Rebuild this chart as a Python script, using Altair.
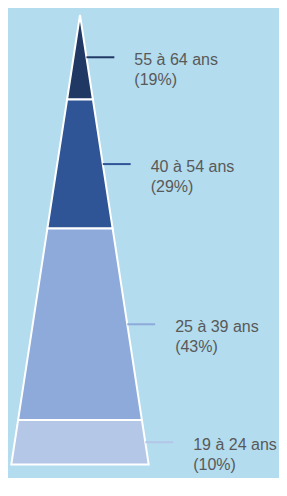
import altair as alt
import pandas as pd

# Data (top of pyramid to bottom)
labels = ["55 à 64 ans", "40 à 54 ans", "25 à 39 ans", "19 à 24 ans"]
pct = [19, 29, 43, 10]
colors = ["#203864", "#2f5597", "#8eaadb", "#b4c7e7"]
background = "#b3dcee"

# Build trapezoid outlines from cumulative shares
rows = []
seg = []
top = 0
for i, (lab, p) in enumerate(zip(labels, pct)):
    bot = top + p
    for d in (top, bot):
        rows.append({"label": lab, "order": i, "depth": d, "left": -d, "right": d})
    mid = (top + bot) / 2
    seg.append({"label": lab, "order": i, "mid": mid,
                "text": f"{lab}\n({p}%)"})
    top = bot

poly = pd.DataFrame(rows)
segs = pd.DataFrame(seg)

yscale = alt.Scale(domain=[-1.573, 104.04], zero=False, nice=False, reverse=True)
xscale = alt.Scale(domain=[-105.88, 292.65], zero=False, nice=False)
cscale = alt.Scale(domain=labels, range=colors)

area = alt.Chart(poly).mark_area(
    orient="horizontal", stroke="white", strokeWidth=2, opacity=1
).encode(
    y=alt.Y("depth:Q", scale=yscale, axis=None),
    x=alt.X("left:Q", scale=xscale, axis=None),
    x2="right:Q",
    color=alt.Color("label:N", scale=cscale, legend=None),
    detail="label:N",
)

base = alt.Chart(segs).transform_calculate(end="datum.mid + 41")

rule = base.mark_rule(strokeWidth=2).encode(
    y=alt.Y("mid:Q", scale=yscale, axis=None),
    x=alt.X("mid:Q", scale=xscale, axis=None),
    x2="end:Q",
    color=alt.Color("label:N", scale=cscale, legend=None),
)

text = base.mark_text(
    align="left", baseline="alphabetic", dx=20, dy=8,
    lineBreak="\n", lineHeight=20, fontSize=16,
    font="Liberation Sans, Arial, sans-serif", color="#595959",
).encode(
    y=alt.Y("mid:Q", scale=yscale, axis=None),
    x=alt.X("end:Q", scale=xscale, axis=None),
    text="text:N",
)

chart = alt.layer(area, rule, text).properties(
    width=271, height=470, padding=0, autosize="none", background=background
).configure_view(strokeWidth=0)

chart.save("out.html", embed_options={"renderer": "svg", "actions": False})
